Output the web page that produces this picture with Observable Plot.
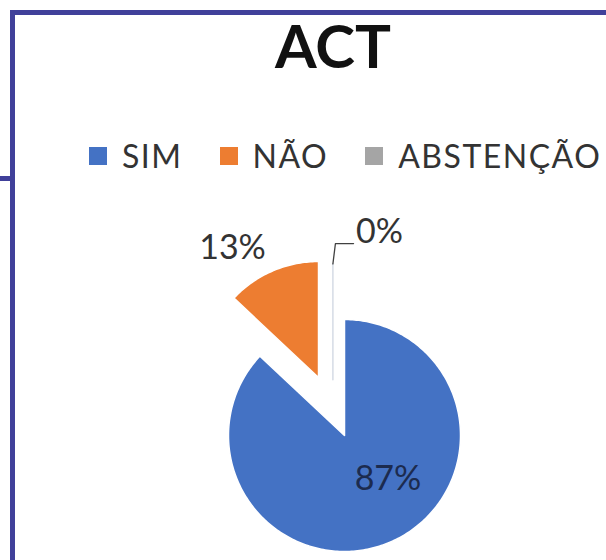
<!DOCTYPE html>
<html>
<head>
<meta charset="utf-8">
<script src="https://cdn.jsdelivr.net/npm/d3@7"></script>
<script src="https://cdn.jsdelivr.net/npm/@observablehq/plot@0.6"></script>
<style>
  html, body { margin: 0; padding: 0; background: #fff; }
  body { width: 606px; height: 560px; position: relative; overflow: hidden; font-family: Lato, "Open Sans", sans-serif; }
  .frame { position: absolute; left: 10px; top: 10px; width: 640px; height: 600px;
           border-top: 5px solid #40409a; border-left: 5px solid #40409a; }
  .tick { position: absolute; left: 0; top: 176px; width: 12px; height: 5px; background: #40409a; }
  #title { position: absolute; left: 0; top: 9px; width: 666px; text-align: center;
           font-family: Lato, sans-serif; font-weight: bold; font-size: 60px; line-height: 72px; color: #111; }
  #legend { position: absolute; left: 89px; top: 136px; width: 760px; white-space: nowrap; }
  #chart { position: absolute; left: 0; top: 195px; }
  .leg-swatch { margin-right: 37px !important; }
  .leg-swatch > svg { margin-right: 15px !important; }
  .leg-swatches { margin: 0 !important; }
  .leg-swatches-wrap { flex-wrap: nowrap !important; }
</style>
</head>
<body>
<div class="frame"></div>
<div class="tick"></div>
<div id="title"></div>
<div id="legend"></div>
<div id="chart"></div>
<script>
// ---- data ----
const title = "ACT";
const categories = ["SIM", "NÃO", "ABSTENÇÃO"];
const values = [87, 13, 0];
const labels = ["87%", "13%", "0%"];
const colors = ["#4472C4", "#ED7D31", "#A5A5A5"];

// ---- layout (not data) ----
const W = 606, H = 365, R = 116, cx = 344, cy = 240;
const explodeOffsets = [[0, 0], [-0.224, 0.5], [-0.1, 0.48]];
const labelPlace = [{a: 135, d: 0.53}, {a: 326.3, d: 1.336}, {a: 17.56, d: 1.332}];
const labelColors = ["#1c2b4f", "#333333", "#333333"];

document.getElementById("title").textContent = title;

const arcs = d3.pie().sort(null).value(d => d)(values);
const polys = [], spokes = [], labelData = [], leaders = [];
arcs.forEach((a, i) => {
  const [ox, oy] = explodeOffsets[i];
  const cat = categories[i];
  const span = a.endAngle - a.startAngle;
  if (span > 1e-9) {
    polys.push({cat, x: ox, y: oy});
    const n = Math.max(2, Math.ceil(span / (Math.PI / 180)));
    for (let k = 0; k <= n; k++) {
      const t = a.startAngle + span * k / n;
      polys.push({cat, x: ox + Math.sin(t), y: oy + Math.cos(t)});
    }
    polys.push({cat, x: ox, y: oy});
  } else {
    const t = a.startAngle;
    spokes.push({cat, x: ox, y: oy});
    spokes.push({cat, x: ox + Math.sin(t), y: oy + Math.cos(t)});
  }
  const lp = labelPlace[i];
  const r = lp.a * Math.PI / 180;
  const lx = ox + lp.d * Math.sin(r), ly = oy + lp.d * Math.cos(r);
  labelData.push({cat, x: lx, y: ly, text: labels[i], color: labelColors[i]});
  if (span <= 1e-9) {
    const tipX = ox + Math.sin(a.startAngle), tipY = oy + Math.cos(a.startAngle);
    leaders.push({cat, x: tipX, y: tipY});
    leaders.push({cat, x: lx - 0.38, y: ly - 0.095});
    leaders.push({cat, x: lx - 0.224, y: ly - 0.095});
  }
});

const plot = Plot.plot({
  width: W, height: H, margin: 0,
  x: {domain: [-cx / R, (W - cx) / R], axis: null},
  y: {domain: [-(H - cy) / R, cy / R], axis: null},
  color: {domain: categories, range: colors},
  style: {background: "transparent", overflow: "visible", fontFamily: "Lato, sans-serif"},
  marks: [
    Plot.line(polys, {x: "x", y: "y", z: "cat", fill: "cat", stroke: "white", strokeWidth: 1.5, curve: "linear"}),
    Plot.line(spokes, {x: "x", y: "y", z: "cat", stroke: "#d5dbe5", strokeWidth: 1.5}),
    Plot.line(leaders, {x: "x", y: "y", z: "cat", stroke: "#404040", strokeWidth: 1.3}),
    Plot.text(labelData, {x: "x", y: "y", text: "text", fill: d => d.color, fontSize: 34, fontFamily: "Lato, sans-serif"})
  ]
});
document.getElementById("chart").appendChild(plot);

const legend = plot.legend("color", {
  legend: "swatches", swatchSize: 18, className: "leg",
  style: {fontSize: "32px", fontFamily: "Lato, sans-serif", color: "#333333", letterSpacing: "1.5px"}
});
document.getElementById("legend").appendChild(legend);
</script>
</body>
</html>
